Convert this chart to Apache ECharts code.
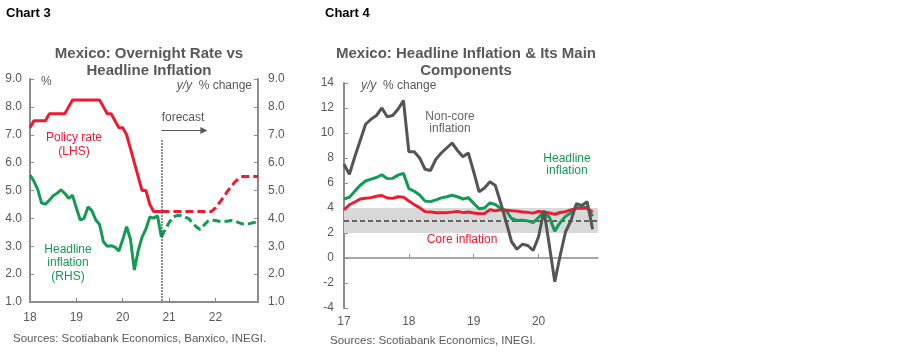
<!DOCTYPE html>
<html>
<head>
<meta charset="utf-8">
<script src="https://cdn.jsdelivr.net/npm/echarts@6/dist/echarts.min.js"></script>
<style>
  html, body { margin: 0; padding: 0; background: #fff; }
  #main { width: 902px; height: 354px; }
</style>
</head>
<body>
<div id="main"></div>
<script>
// ---- chart 3 : overnight rate vs headline inflation (monthly, Jan-18 .. Dec-22)
var years3 = ['18', '19', '20', '21', '22'];
var policyActual = [7.25, 7.5, 7.5, 7.5, 7.5, 7.75, 7.75, 7.75, 7.75, 7.75, 8.0, 8.25,
    8.25, 8.25, 8.25, 8.25, 8.25, 8.25, 8.25, 8.0, 7.75, 7.75, 7.5, 7.25,
    7.25, 7.0, 6.5, 6.0, 5.5, 5.0, 5.0, 4.5, 4.25, 4.25, 4.25];
// forecast starts at the last actual month (Nov-20)
var policyForecast = [4.25, 4.25, 4.25, 4.25, 4.25, 4.25, 4.25, 4.25, 4.25, 4.25, 4.25, 4.25, 4.25,
    4.25, 4.38, 4.56, 4.75, 4.95, 5.14, 5.3, 5.43, 5.5, 5.5, 5.5, 5.5, 5.5];
var headlineActual = [5.55, 5.34, 5.04, 4.55, 4.51, 4.65, 4.81, 4.90, 5.02, 4.90, 4.72, 4.83,
    4.37, 3.94, 4.00, 4.41, 4.28, 3.95, 3.78, 3.16, 3.00, 3.02, 2.97, 2.83,
    3.24, 3.70, 3.25, 2.15, 2.84, 3.33, 3.62, 4.05, 4.01, 4.09, 3.33];
var headlineForecast = [3.33, 3.6, 3.85, 4.05, 4.1, 4.1, 4.05, 4.0, 3.85, 3.7, 3.6, 3.75, 3.9,
    3.95, 3.92, 3.9, 3.9, 3.9, 3.92, 3.9, 3.85, 3.8, 3.8, 3.82, 3.85, 3.85];

// ---- chart 4 : headline inflation & main components (monthly, Jan-17 .. Dec-20)
var years4 = ['17', '18', '19', '20'];
var headline4 = [4.72, 4.86, 5.35, 5.82, 6.16, 6.31, 6.44, 6.66, 6.35, 6.37, 6.63, 6.77,
    5.55, 5.34, 5.04, 4.55, 4.51, 4.65, 4.81, 4.90, 5.02, 4.90, 4.72, 4.83,
    4.37, 3.94, 4.00, 4.41, 4.28, 3.95, 3.78, 3.16, 3.00, 3.02, 2.97, 2.83,
    3.24, 3.70, 3.25, 2.15, 2.84, 3.33, 3.62, 4.05, 4.01, 4.09, 3.33];
var core4 = [3.84, 4.26, 4.48, 4.72, 4.78, 4.83, 4.94, 5.00, 4.80, 4.77, 4.90, 4.87,
    4.56, 4.27, 4.02, 3.71, 3.69, 3.62, 3.63, 3.63, 3.67, 3.73, 3.63, 3.68,
    3.60, 3.54, 3.55, 3.87, 3.77, 3.85, 3.82, 3.78, 3.75, 3.68, 3.65, 3.59,
    3.73, 3.66, 3.60, 3.50, 3.64, 3.71, 3.85, 3.97, 3.99, 3.98, 3.66];
var noncore4 = [7.5, 6.7, 8.1, 9.4, 10.7, 11.1, 11.4, 12.0, 11.3, 11.4, 11.9, 12.6,
    8.5, 8.5, 8.0, 7.1, 7.0, 7.9, 8.4, 8.8, 9.2, 8.6, 8.1, 8.4,
    6.9, 5.3, 5.6, 6.1, 5.8, 4.4, 2.9, 1.3, 0.7, 1.1, 1.0, 0.6,
    1.7, 3.8, 1.0, -1.9, 0.2, 2.1, 3.0, 4.35, 4.2, 4.5, 2.3];
var targetBand = [2, 4];
var targetMid = 3;

var RED = '#ec1b30', GREEN = '#139a55', DARK = '#555555', TXT = '#595959', AX = '#8c8c8c';
var FONT = 'Liberation Sans';

function monthCats(years) {
    var out = [];
    years.forEach(function (y) {
        for (var m = 1; m <= 12; m++) out.push(y + '-' + m);
    });
    return out;
}
var cats3 = monthCats(years3), cats4 = monthCats(years4);
var lastActual = policyActual.length - 1;

function pad(arr, before) {
    var out = [];
    for (var i = 0; i < before; i++) out.push(null);
    return out.concat(arr);
}
function isJan(i) { return i % 12 === 0; }
function yrLabel(v) { return v.split('-')[1] === '1' ? v.split('-')[0] : ''; }

var axisTxt = { color: TXT, fontFamily: FONT, fontSize: 12 };

var chart = echarts.init(document.getElementById('main'), null, { renderer: 'canvas' });

var option = {
    backgroundColor: '#fff',
    animation: false,
    title: [
        {
            text: 'Mexico: Overnight Rate vs\nHeadline Inflation',
            left: 144, top: 40, textAlign: 'center',
            textStyle: { color: TXT, fontFamily: FONT, fontSize: 15, fontWeight: 'bold', lineHeight: 17 }
        },
        {
            text: 'Mexico: Headline Inflation & Its Main\nComponents',
            left: 461, top: 40, textAlign: 'center',
            textStyle: { color: TXT, fontFamily: FONT, fontSize: 15, fontWeight: 'bold', lineHeight: 17 }
        }
    ],
    grid: [
        { left: 30, top: 79, width: 228, height: 223, outerBoundsMode: 'none' },
        { left: 344, top: 83, width: 254, height: 225, outerBoundsMode: 'none' }
    ],
    xAxis: [
        {
            gridIndex: 0, type: 'category', data: cats3, boundaryGap: false, position: 'bottom',
            axisLine: { onZero: false, lineStyle: { color: AX, width: 2 } },
            axisTick: { inside: true, length: 4, interval: isJan, lineStyle: { color: AX } },
            axisLabel: Object.assign({ interval: isJan, formatter: yrLabel, margin: 10 }, axisTxt),
            splitLine: { show: false }
        },
        {
            gridIndex: 1, type: 'category', data: cats4, boundaryGap: false, position: 'bottom',
            axisLine: { show: false, onZero: false },
            axisTick: { show: false },
            axisLabel: Object.assign({ interval: isJan, formatter: yrLabel, margin: 8 }, axisTxt),
            splitLine: { show: false }
        },
        {
            gridIndex: 1, type: 'category', data: cats4, boundaryGap: false, position: 'bottom',
            axisLine: { onZero: true, lineStyle: { color: AX, width: 1.5 } },
            axisTick: { inside: true, length: 4, interval: isJan, lineStyle: { color: AX } },
            axisLabel: { show: false },
            splitLine: { show: false }
        }
    ],
    yAxis: [
        {
            gridIndex: 0, type: 'value', min: 1, max: 9, interval: 1, position: 'left',
            axisLine: { show: true, lineStyle: { color: AX, width: 2 } },
            axisTick: { show: true, inside: true, length: 4, lineStyle: { color: AX } },
            axisLabel: Object.assign({ formatter: function (v) { return v.toFixed(1); }, margin: 8 }, axisTxt),
            splitLine: { show: false }
        },
        {
            gridIndex: 0, type: 'value', min: 1, max: 9, interval: 1, position: 'right',
            axisLine: { show: true, lineStyle: { color: AX, width: 2 } },
            axisTick: { show: true, inside: true, length: 4, lineStyle: { color: AX } },
            axisLabel: Object.assign({ formatter: function (v) { return v.toFixed(1); }, margin: 10 }, axisTxt),
            splitLine: { show: false }
        },
        {
            gridIndex: 1, type: 'value', min: -4, max: 14, interval: 2, position: 'left',
            axisLine: { show: true, onZero: false, lineStyle: { color: AX, width: 2 } },
            axisTick: { show: true, inside: true, length: 4, lineStyle: { color: AX } },
            axisLabel: Object.assign({ margin: 10 }, axisTxt),
            splitLine: { show: false }
        }
    ],
    series: [
        // chart 3
        {
            name: 'Headline inflation (RHS)', type: 'line', xAxisIndex: 0, yAxisIndex: 1,
            data: headlineActual, symbol: 'none', lineStyle: { color: GREEN, width: 3 }
        },
        {
            name: 'Headline forecast', type: 'line', xAxisIndex: 0, yAxisIndex: 1,
            data: pad(headlineForecast, lastActual), symbol: 'none',
            lineStyle: { color: GREEN, width: 3, type: [8, 4] }
        },
        {
            name: 'Policy rate (LHS)', type: 'line', xAxisIndex: 0, yAxisIndex: 0,
            data: policyActual, symbol: 'none', lineStyle: { color: RED, width: 3 },
            markLine: {
                silent: true, symbol: 'none', label: { show: false },
                lineStyle: { color: '#404040', width: 1.5, type: 'dotted' },
                data: [[{ coord: [lastActual, 6.8] }, { coord: [lastActual, 1] }]]
            }
        },
        {
            name: 'Policy forecast', type: 'line', xAxisIndex: 0, yAxisIndex: 0,
            data: pad(policyForecast, lastActual), symbol: 'none',
            lineStyle: { color: RED, width: 3, type: [8, 4] },
            markLine: {
                silent: true, symbol: ['none', 'triangle'], symbolSize: [7, 7], label: { show: false },
                lineStyle: { color: '#595959', width: 1, type: 'solid' },
                data: [[{ coord: [lastActual, 7.15] }, { coord: [lastActual + 11, 7.15] }]]
            }
        },
        // chart 4
        {
            name: 'Headline inflation', type: 'line', xAxisIndex: 2, yAxisIndex: 2, z: 3,
            data: headline4, symbol: 'none', lineStyle: { color: GREEN, width: 3 },
            markArea: {
                silent: true, z: 1, itemStyle: { color: '#d9d9d9' },
                data: [[{ yAxis: targetBand[0] }, { yAxis: targetBand[1] }]]
            },
            markLine: {
                silent: true, z: 2, symbol: 'none', label: { show: false },
                lineStyle: { color: '#404040', width: 1.5, type: [5, 3] },
                data: [{ yAxis: targetMid }]
            }
        },
        {
            name: 'Core inflation', type: 'line', xAxisIndex: 2, yAxisIndex: 2, z: 3,
            data: core4, symbol: 'none', lineStyle: { color: RED, width: 3 }
        },
        {
            name: 'Non-core inflation', type: 'line', xAxisIndex: 2, yAxisIndex: 2, z: 3,
            data: noncore4, symbol: 'none', lineStyle: { color: DARK, width: 3 }
        }
    ],
    graphic: [
        { type: 'text', left: 6, top: 7, style: { text: 'Chart 3', fill: '#000', font: 'bold 13px "Liberation Sans Narrow", "Liberation Sans"' } },
        { type: 'text', left: 325, top: 7, style: { text: 'Chart 4', fill: '#000', font: 'bold 13px "Liberation Sans Narrow", "Liberation Sans"' } },

        { type: 'text', x: 41, y: 82, style: { text: '%', fill: TXT, font: '12px ' + FONT, verticalAlign: 'middle' } },
        { type: 'text', x: 252, y: 86, style: {
            text: '{i|y/y}  % change', fill: TXT, font: '12px ' + FONT, align: 'right', verticalAlign: 'middle',
            rich: { i: { fontStyle: 'italic', fontFamily: FONT, fontSize: 12, fill: TXT } } } },
        { type: 'text', x: 183, y: 118, style: { text: 'forecast', fill: TXT, font: '12px ' + FONT, align: 'center', verticalAlign: 'middle' } },
        { type: 'text', x: 74, y: 145, style: { text: 'Policy rate\n(LHS)', fill: RED, font: '12px ' + FONT, align: 'center', verticalAlign: 'middle', lineHeight: 14 } },
        { type: 'text', x: 68, y: 263, style: { text: 'Headline\ninflation\n(RHS)', fill: GREEN, font: '12px ' + FONT, align: 'center', verticalAlign: 'middle', lineHeight: 13.5 } },
        { type: 'text', left: 13, top: 333, style: { text: 'Sources: Scotiabank Economics, Banxico, INEGI.', fill: TXT, font: '11.5px ' + FONT } },

        { type: 'text', x: 361, y: 86, style: {
            text: '{i|y/y}  % change', fill: TXT, font: '12px ' + FONT, verticalAlign: 'middle',
            rich: { i: { fontStyle: 'italic', fontFamily: FONT, fontSize: 12, fill: TXT } } } },
        { type: 'text', x: 450, y: 122.5, style: { text: 'Non-core\ninflation', fill: '#666666', font: '12px ' + FONT, align: 'center', verticalAlign: 'middle', lineHeight: 12 } },
        { type: 'text', x: 567, y: 165, style: { text: 'Headline\ninflation', fill: GREEN, font: '12px ' + FONT, align: 'center', verticalAlign: 'middle', lineHeight: 12 } },
        { type: 'text', x: 462, y: 240, style: { text: 'Core inflation', fill: RED, font: '12px ' + FONT, align: 'center', verticalAlign: 'middle' } },
        { type: 'text', left: 330, top: 335, style: { text: 'Sources: Scotiabank Economics, INEGI.', fill: TXT, font: '11.5px ' + FONT } }
    ]
};

chart.setOption(option);
</script>
</body>
</html>
